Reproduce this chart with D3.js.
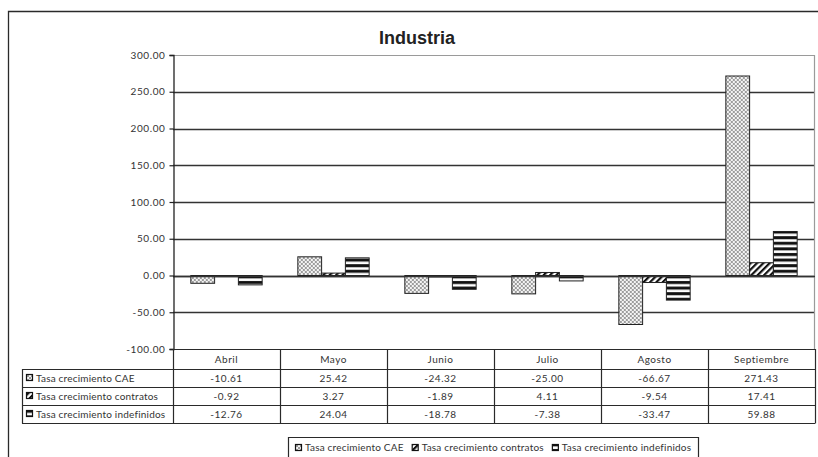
<!DOCTYPE html>
<html><head><meta charset="utf-8">
<script src="https://cdn.jsdelivr.net/npm/d3@7"></script>
<style>
body{margin:0;background:#fff;}
svg{display:block;}
text{font-family:Lato,"Open Sans",sans-serif;fill:#333;}
</style>
</head><body>
<svg id="chart" width="818" height="457"></svg>
<script>
// Monthly growth rates, Industria
const categories = ["Abril", "Mayo", "Junio", "Julio", "Agosto", "Septiembre"];
const seriesNames = ["Tasa crecimiento CAE", "Tasa crecimiento contratos", "Tasa crecimiento indefinidos"];
const cae = [-10.61, 25.42, -24.32, -25.00, -66.67, 271.43];
const contratos = [-0.92, 3.27, -1.89, 4.11, -9.54, 17.41];
const indefinidos = [-12.76, 24.04, -18.78, -7.38, -33.47, 59.88];
const yTicks = [300, 250, 200, 150, 100, 50, 0, -50, -100];
const chartTitle = "Industria";

const seriesValues = [cae, contratos, indefinidos];
const patternIds = ["pat-cae", "pat-contratos", "pat-indef"];

// plain hyphen for negative numbers
const locale = d3.formatLocale({decimal: ".", thousands: ",", grouping: [3], currency: ["", ""], minus: "-"});
const fmt = locale.format(".2f");

const svg = d3.select("#chart");
const plot = {left: 173, right: 815, top: 55, bottom: 349};
const table = {left: 22, rows: [349, 369, 387, 405, 423]};

// fill patterns
const defs = svg.append("defs");
const p1 = defs.append("pattern").attr("id", "pat-cae").attr("patternUnits", "userSpaceOnUse")
  .attr("width", 4).attr("height", 4);
p1.append("rect").attr("width", 4).attr("height", 4).attr("fill", "#f4f4f4");
p1.append("path").attr("d", "M0,0L4,4M4,0L0,4").attr("stroke", "#8e8e8e").attr("stroke-width", 0.85);

const p2 = defs.append("pattern").attr("id", "pat-contratos").attr("patternUnits", "userSpaceOnUse")
  .attr("width", 4.5).attr("height", 4.5).attr("patternTransform", "rotate(45)");
p2.append("rect").attr("width", 4.5).attr("height", 4.5).attr("fill", "#fff");
p2.append("rect").attr("width", 2.2).attr("height", 4.5).attr("fill", "#111");

const p3 = defs.append("pattern").attr("id", "pat-indef").attr("patternUnits", "userSpaceOnUse")
  .attr("width", 6).attr("height", 5.6);
p3.append("rect").attr("width", 6).attr("height", 5.6).attr("fill", "#fff");
p3.append("rect").attr("y", 1).attr("width", 6).attr("height", 3).attr("fill", "#111");

// outer frame (left and top edges visible)
svg.append("path").attr("d", "M8.5,470V11.5H830").attr("fill", "none")
  .attr("stroke", "#2a2a2a").attr("stroke-width", 1.3);

// title
svg.append("text").attr("x", 417).attr("y", 44).attr("text-anchor", "middle")
  .style("font-family", "'Liberation Sans', Arial, sans-serif")
  .style("font-weight", "bold").style("font-size", "18px").style("fill", "#222")
  .text(chartTitle);

// scales
const y = d3.scaleLinear().domain([-100, 300]).range([plot.bottom, plot.top]);
const x0 = d3.scaleBand().domain(categories).range([plot.left, plot.right])
  .paddingInner(1 / 3).paddingOuter(1 / 6);
const x1 = d3.scaleBand().domain(d3.range(seriesNames.length)).range([0, x0.bandwidth()]);

// gridlines
svg.append("g").selectAll("line").data(yTicks.filter(d => d < 300 && d > -100)).join("line")
  .attr("x1", plot.left).attr("x2", plot.right)
  .attr("y1", d => Math.round(y(d)) + 0.5).attr("y2", d => Math.round(y(d)) + 0.5)
  .attr("stroke", "#333").attr("stroke-width", 1.3);

// plot border top / right
svg.append("path")
  .attr("d", `M${plot.left},${Math.round(y(300)) + 0.5}H${plot.right - 0.5}V${plot.bottom}`)
  .attr("fill", "none").attr("stroke", "#9a9a9a").attr("stroke-width", 1.2);

// bars
const groups = svg.append("g").selectAll("g").data(categories).join("g")
  .attr("transform", d => `translate(${x0(d)},0)`);
groups.selectAll("rect")
  .data((c, i) => seriesValues.map((vals, s) => ({s, v: vals[i]})))
  .join("rect")
  .attr("x", d => x1(d.s))
  .attr("width", x1.bandwidth())
  .attr("y", d => y(Math.max(0, d.v)))
  .attr("height", d => Math.abs(y(d.v) - y(0)))
  .attr("fill", d => `url(#${patternIds[d.s]})`)
  .attr("stroke", "#222").attr("stroke-width", 1);

// zero line over bars
svg.append("line").attr("x1", plot.left).attr("x2", plot.right)
  .attr("y1", Math.round(y(0)) + 0.5).attr("y2", Math.round(y(0)) + 0.5)
  .attr("stroke", "#333").attr("stroke-width", 1.3);

// y axis
const yAxis = d3.axisLeft(y).tickValues(yTicks).tickFormat(fmt).tickSize(4).tickPadding(4);
const ag = svg.append("g").attr("transform", `translate(${plot.left + 0.5},0)`).call(yAxis);
ag.select(".domain").attr("stroke", "#222").attr("stroke-width", 1.3);
ag.selectAll(".tick line").attr("stroke", "#222").attr("stroke-width", 1.2);
ag.selectAll(".tick text").style("font-family", "Lato, sans-serif").style("font-size", "10px")
  .style("letter-spacing", "0.6px").attr("fill", "#333");

// data table
const tg = svg.append("g");
const rows = table.rows;
const lineStyle = sel => sel.attr("stroke", "#2a2a2a").attr("stroke-width", 1.2).attr("fill", "none");
tg.append("line").attr("x1", plot.left).attr("x2", plot.right).attr("y1", rows[0] + 0.5).attr("y2", rows[0] + 0.5).call(lineStyle);
rows.slice(1).forEach(r => {
  tg.append("line").attr("x1", table.left).attr("x2", plot.right).attr("y1", r + 0.5).attr("y2", r + 0.5).call(lineStyle);
});
tg.append("line").attr("x1", table.left + 0.5).attr("x2", table.left + 0.5).attr("y1", rows[1]).attr("y2", rows[4] + 0.5).call(lineStyle);
const colEdges = categories.map(c => x0(c) - x0.step() * x0.paddingOuter()).concat([plot.right]);
colEdges.forEach(xv => {
  tg.append("line").attr("x1", Math.round(xv) + 0.5).attr("x2", Math.round(xv) + 0.5)
    .attr("y1", rows[0]).attr("y2", rows[4] + 0.5).call(lineStyle);
});

const txt = sel => sel.style("font-size", "10px").style("letter-spacing", "0.5px");
// header
tg.selectAll("text.cat").data(categories).join("text").attr("class", "cat")
  .attr("x", d => x0(d) + x0.bandwidth() / 2).attr("y", (rows[0] + rows[1]) / 2 + 3.5)
  .attr("text-anchor", "middle").call(txt).text(d => d);
// rows
seriesNames.forEach((name, s) => {
  const cy = (rows[s + 1] + rows[s + 2]) / 2;
  tg.append("rect").attr("x", 26.5).attr("y", Math.round(cy - 4) + 0.5).attr("width", 6).attr("height", 6)
    .attr("fill", `url(#${patternIds[s]})`).attr("stroke", "#111").attr("stroke-width", 1.2);
  tg.append("text").attr("x", 36).attr("y", cy + 3.5).style("font-size", "10px")
    .style("letter-spacing", "0.2px").text(name);
  tg.selectAll(`text.v${s}`).data(seriesValues[s]).join("text").attr("class", `v${s}`)
    .attr("x", (d, i) => x0(categories[i]) + x0.bandwidth() / 2).attr("y", cy + 3.5)
    .attr("text-anchor", "middle").call(txt).text(d => fmt(d));
});

// legend
const lg = svg.append("g");
const legBox = {x: 288, y: 437, w: 410};
lg.append("path").attr("d", `M${legBox.x + 0.5},470V${legBox.y + 0.5}H${legBox.x + legBox.w + 0.5}V470`)
  .attr("fill", "none").attr("stroke", "#2a2a2a").attr("stroke-width", 1.2);
const items = lg.append("g");
let lx = 0;
seriesNames.forEach((name, s) => {
  items.append("rect").attr("x", lx + 0.5).attr("y", 444.5).attr("width", 6).attr("height", 6)
    .attr("fill", `url(#${patternIds[s]})`).attr("stroke", "#111").attr("stroke-width", 1.2);
  const t = items.append("text").attr("x", lx + 10).attr("y", 451).style("font-size", "10px")
    .style("letter-spacing", "0.2px").text(name);
  lx += 10 + t.node().getComputedTextLength() + 8;
});
const itemsWidth = lx - 8;
items.attr("transform", `translate(${Math.round(legBox.x + (legBox.w - itemsWidth) / 2)},0)`);
</script>
</body></html>
